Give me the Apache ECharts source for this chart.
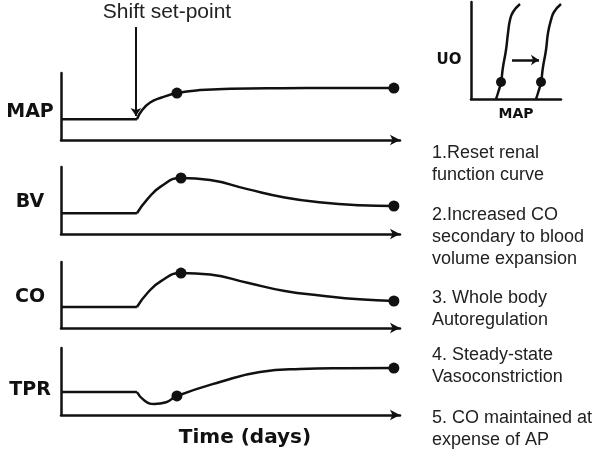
<!DOCTYPE html>
<html>
<head>
<meta charset="utf-8">
<title>Shift set-point</title>
<script src="https://cdn.jsdelivr.net/npm/echarts@6/dist/echarts.min.js"></script>
<style>
html,body{margin:0;padding:0;background:#fff;}
#main{width:600px;height:456px;}
</style>
</head>
<body>
<div id="main"></div>
<script>
// time runs 0..100 on every panel, each variable 0..100 (arbitrary units)
var panelNames = ['MAP', 'BV', 'CO', 'TPR'];
var shiftTime = 22.1;

var mapTime = [22.4, 24, 26.3, 29.5, 34.2, 41, 50, 65, 80, 98.2];
var mapVals = [31, 45, 56, 63, 70, 74.5, 76.5, 77.3, 77.5, 77.5];
var mapDots = [[34.2, 70], [98.2, 77.5]];

var bvTime = [22.4, 25.5, 29.5, 35.4, 44, 55, 66, 77, 88, 98.2];
var bvVals = [31, 52, 71, 83.6, 80.5, 67, 54.5, 47, 43, 41.8];
var bvDots = [[35.4, 83.6], [98.2, 41.8]];

var coTime = [22.4, 25.5, 29.5, 35.4, 44, 55, 66, 77, 88, 98.2];
var coVals = [31.8, 53, 71, 83.3, 81, 68.5, 56, 49, 43.5, 40.9];
var coDots = [[35.4, 83.3], [98.2, 40.9]];

var tprTime = [22.4, 24.5, 27.5, 31, 34.2, 46.9, 58.7, 70.5, 84, 98.2];
var tprVals = [34.3, 22, 16.4, 19, 28.4, 49.3, 64.2, 68.7, 69.8, 70.1];
var tprDots = [[34.2, 28.4], [98.2, 70.1]];

// inset: urine output vs MAP, renal function curve before / after the shift
var ucurveOld = [[25, 0], [27, 6], [30, 17], [32, 32], [35, 49], [37, 66], [39, 79], [42, 87], [49, 95]];
var ucurveNew = [[65, 0], [67, 6], [70, 17], [72, 32], [75, 49], [77, 66], [80, 79], [83, 87], [90, 95]];
var uDots = [[30, 17], [70, 17]];
var uShift = [[41, 39], [68, 39]];

var notes = [
    '1.Reset renal\nfunction curve',
    '2.Increased CO\nsecondary to blood\nvolume expansion',
    '3. Whole body\nAutoregulation',
    '4. Steady-state\nVasoconstriction',
    '5. CO maintained at\nexpense of AP'
];

var ink = '#111';
var times = [mapTime, bvTime, coTime, tprTime];
var vals = [mapVals, bvVals, coVals, tprVals];
var dots = [mapDots, bvDots, coDots, tprDots];
var tops = [73, 167, 262, 348];
var heights = [67, 67, 66, 67];
var labelY = [112, 202, 297, 390];
var noteY = [142, 204, 287, 344, 407];

var zip = function(t, v){
    var out = [];
    for (var i = 0; i < t.length; i++) out.push([t[i], v[i]]);
    return out;
};

var grids = [], xAxes = [], yAxes = [], series = [], texts = [];

for (var i = 0; i < 4; i++) {
    grids.push({left: 61, top: tops[i], width: 339, height: heights[i], outerBoundsMode: 'none'});
    xAxes.push({
        type: 'value', gridIndex: i, min: 0, max: 100,
        axisLine: {show: true, symbol: ['none', 'arrow'], symbolSize: [8, 10], lineStyle: {color: ink, width: 2.5}},
        axisTick: {show: false}, axisLabel: {show: false}, splitLine: {show: false}
    });
    yAxes.push({
        type: 'value', gridIndex: i, min: 0, max: 100,
        axisLine: {show: true, lineStyle: {color: ink, width: 2.5}},
        axisTick: {show: false}, axisLabel: {show: false}, splitLine: {show: false}
    });
    // flat part before the step
    series.push({
        type: 'line', xAxisIndex: i, yAxisIndex: i, silent: true, symbol: 'none',
        data: [[0, vals[i][0]], [times[i][0], vals[i][0]]],
        lineStyle: {color: ink, width: 2.5}
    });
    var curve = {
        type: 'line', xAxisIndex: i, yAxisIndex: i, silent: true, symbol: 'none',
        smooth: 0.5, data: zip(times[i], vals[i]),
        lineStyle: {color: ink, width: 2.5}
    };
    if (i == 0) {
        curve.markLine = {
            silent: true, symbol: ['none', 'arrow'], symbolSize: 8,
            label: {show: false}, lineStyle: {color: ink, width: 2, type: 'solid'},
            data: [[{x: 136, y: 27}, {coord: [shiftTime, 36]}]]
        };
    }
    series.push(curve);
    series.push({
        type: 'scatter', xAxisIndex: i, yAxisIndex: i, silent: true,
        symbolSize: 11, data: dots[i], itemStyle: {color: ink, opacity: 1}
    });
    texts.push({
        type: 'text', x: 30, y: labelY[i],
        style: {text: panelNames[i], fontFamily: 'DejaVu Sans', fontWeight: 'bold', fontSize: 19,
            fill: ink, align: 'center', verticalAlign: 'middle'}
    });
}

// inset
grids.push({left: 471, top: 2, width: 90, height: 97, outerBoundsMode: 'none'});
xAxes.push({
    type: 'value', gridIndex: 4, min: 0, max: 90,
    axisLine: {show: true, lineStyle: {color: ink, width: 2.5}},
    axisTick: {show: false}, axisLabel: {show: false}, splitLine: {show: false}
});
yAxes.push({
    type: 'value', gridIndex: 4, min: 0, max: 97,
    axisLine: {show: true, lineStyle: {color: ink, width: 2.5}},
    axisTick: {show: false}, axisLabel: {show: false}, splitLine: {show: false}
});
series.push({
    type: 'line', xAxisIndex: 4, yAxisIndex: 4, silent: true, symbol: 'none', smooth: 0.5,
    data: ucurveOld, lineStyle: {color: ink, width: 2.5},
    markLine: {
        silent: true, symbol: ['none', 'arrow'], symbolSize: 8,
        label: {show: false}, lineStyle: {color: ink, width: 2.5, type: 'solid'},
        data: [[{coord: uShift[0]}, {coord: uShift[1]}]]
    }
});
series.push({
    type: 'line', xAxisIndex: 4, yAxisIndex: 4, silent: true, symbol: 'none', smooth: 0.5,
    data: ucurveNew, lineStyle: {color: ink, width: 2.5}
});
series.push({
    type: 'scatter', xAxisIndex: 4, yAxisIndex: 4, silent: true,
    symbolSize: 10, data: uDots, itemStyle: {color: ink, opacity: 1}
});

texts.push({type: 'text', x: 449, y: 60,
    style: {text: 'UO', fontFamily: 'DejaVu Sans', fontWeight: 'bold', fontSize: 15, fill: ink, align: 'center', verticalAlign: 'middle'}});
texts.push({type: 'text', x: 516, y: 114,
    style: {text: 'MAP', fontFamily: 'DejaVu Sans', fontWeight: 'bold', fontSize: 14, fill: ink, align: 'center', verticalAlign: 'middle'}});
texts.push({type: 'text', x: 167, y: 12,
    style: {text: 'Shift set-point', fontFamily: 'Liberation Sans', fontSize: 21, fill: '#222', align: 'center', verticalAlign: 'middle'}});
texts.push({type: 'text', x: 245, y: 438,
    style: {text: 'Time (days)', fontFamily: 'DejaVu Sans', fontWeight: 'bold', fontSize: 20, fill: ink, align: 'center', verticalAlign: 'middle'}});

for (var k = 0; k < notes.length; k++) {
    texts.push({type: 'text', x: 432, y: noteY[k],
        style: {text: notes[k], fontFamily: 'Liberation Sans', fontSize: 18, lineHeight: 22, fill: '#222', align: 'left', verticalAlign: 'top'}});
}

var myChart = echarts.init(document.getElementById('main'));
myChart.setOption({
    animation: false,
    backgroundColor: '#fff',
    grid: grids,
    xAxis: xAxes,
    yAxis: yAxes,
    series: series,
    graphic: texts
});
</script>
</body>
</html>
